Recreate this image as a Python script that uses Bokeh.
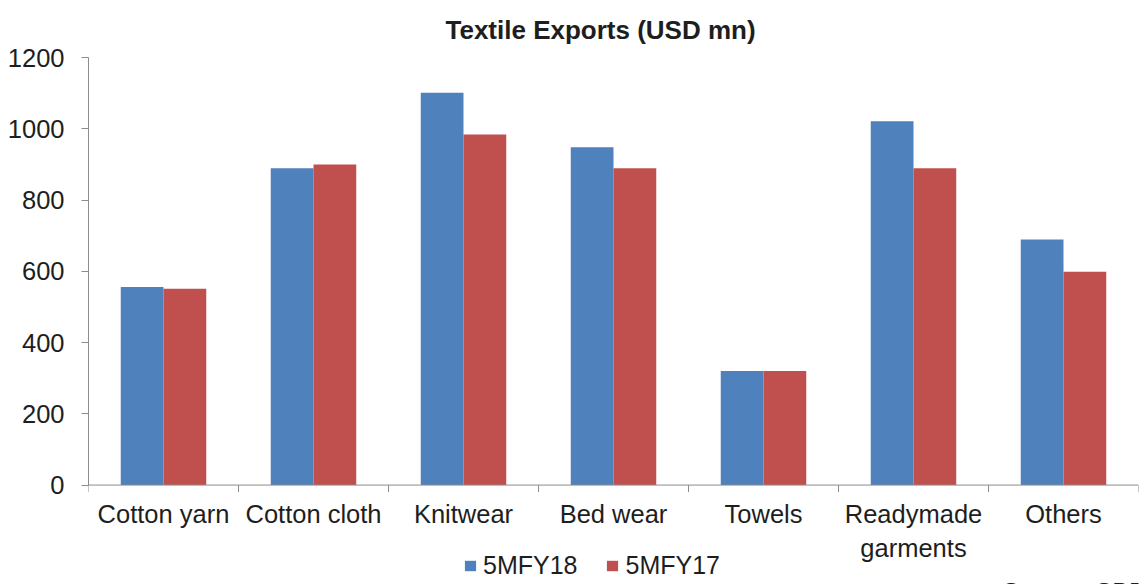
import math
from bokeh.plotting import figure
from bokeh.models import (ColumnDataSource, Range1d, FixedTicker, Legend, LegendItem,
                          Title, Span, Label)
from bokeh.core.properties import value
from bokeh.transform import dodge
from bokeh.embed import file_html
from bokeh.resources import INLINE

categories = ["Cotton yarn", "Cotton cloth", "Knitwear", "Bed wear", "Towels",
              "Readymade\ngarments", "Others"]
series_names = ["5MFY18", "5MFY17"]
fy18 = [556, 889, 1101, 948, 320, 1021, 689]
fy17 = [551, 900, 984, 889, 320, 889, 599]
y_ticks = [0, 200, 400, 600, 800, 1000, 1200]

BLUE = "#4F81BD"
RED = "#C0504D"
AXIS = "#8C8C8C"
TEXT = "#1E1E1E"
FONT = "Liberation Sans"

# layout (pixels)
W, H = 1141, 584
LEFT, RIGHT, TOP = 88, 3, 54
PLOT_H = 430          # pixel height of 0..1200
BELOW = H - TOP - PLOT_H   # space kept under the zero line for labels / legend
y_max = y_ticks[-1]
y_min = -y_max * BELOW / PLOT_H

idx = list(range(len(categories)))
bounds = [i - 0.5 for i in range(len(categories) + 1)]
src = ColumnDataSource(dict(x=idx, fy18=fy18, fy17=fy17, name=categories))

p = figure(width=W, height=H, output_backend="svg", toolbar_location=None,
           x_range=Range1d(bounds[0], bounds[-1]),
           y_range=Range1d(y_min, y_max), x_axis_location=None,
           min_border_left=LEFT, min_border_right=RIGHT, min_border_top=TOP,
           min_border_bottom=0)
p.outline_line_color = None
p.xgrid.visible = False
p.ygrid.visible = False
p.background_fill_color = "white"
p.border_fill_color = "white"

w = 0.285
r1 = p.vbar(x=dodge("x", -w / 2), top="fy18", width=w, bottom=0, source=src,
            fill_color=BLUE, line_color=None)
r2 = p.vbar(x=dodge("x", w / 2), top="fy17", width=w, bottom=0, source=src,
            fill_color=RED, line_color=None)

p.title = Title(text="Textile Exports (USD mn)", align="left", text_font=FONT,
                text_font_size="26px", text_font_style="bold", text_color=TEXT,
                standoff=25, offset=357)

# y axis
ya = p.yaxis[0]
ya.bounds = (0, y_max)
ya.ticker = FixedTicker(ticks=y_ticks, minor_ticks=[])
ya.axis_line_color = AXIS
ya.major_tick_line_color = AXIS
ya.major_tick_out = 7
ya.major_tick_in = 0
ya.minor_tick_line_color = None
ya.major_label_standoff = 17
ya.major_label_text_font = FONT
ya.major_label_text_font_size = "25.5px"
ya.major_label_text_color = TEXT

# category axis drawn at the zero line
p.add_layout(Span(location=0, dimension="width", line_color=AXIS, line_width=1))
p.ray(x=bounds, y=0, length=7, length_units="screen", angle=-math.pi / 2,
      line_color=AXIS, line_width=1)
p.text(x="x", y=0, text="name", source=src, y_offset=15,
       text_align="center", text_baseline="top", text_line_height=1.2,
       text_font=value(FONT), text_font_size="25.5px", text_color=TEXT)

legend = Legend(items=[LegendItem(label=series_names[0], renderers=[r1]),
                       LegendItem(label=series_names[1], renderers=[r2])],
                orientation="horizontal", location=(375, 4),
                glyph_width=14, glyph_height=13, label_standoff=6, spacing=28,
                padding=0, margin=0, border_line_color=None, background_fill_alpha=0,
                label_text_font=FONT, label_text_font_size="25px", label_text_color=TEXT)
p.add_layout(legend)

# source note, cut by the bottom edge as in the original image
p.add_layout(Label(x=914, y=7, x_units="screen", y_units="screen", text="Source: SBP",
                   text_baseline="top", text_font=FONT, text_font_size="25px",
                   text_color=TEXT))

open("out.html", "w").write(file_html(p, INLINE))
